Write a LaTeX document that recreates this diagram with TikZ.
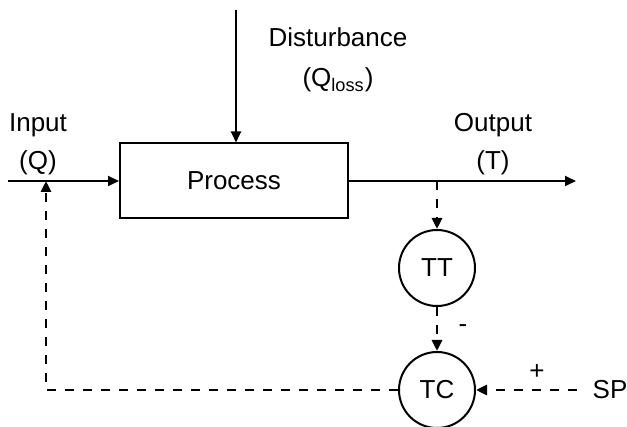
\documentclass[tikz,border=0pt]{standalone}
\usepackage{fontspec}
\setmainfont{Liberation Sans}
\usetikzlibrary{arrows.meta}
\tikzset{
   line/.style  = {-, line width=1pt, },
   arrow/.style = {-{Triangle[length=5.5pt,width=5pt]}, line width=1pt, },
   dasharrow/.style = {-{Triangle[length=5.5pt,width=5pt]}, line width=1.4pt,
      dash pattern=on 4.5pt off 4.5pt, },
   lbl/.style = {inner sep=0pt, align=center, font=\fontsize{13}{19}\selectfont, },
}

\begin{document}
\begin{tikzpicture}[x=0.5pt, y=-0.5pt]

      \useasboundingbox (0,0) rectangle (627,427);

      \node[
         rectangle,
         draw,
         line width = 1pt,
         minimum height=37.5pt,
         minimum width=114pt,
         font=\fontsize{13}{15}\selectfont,
      ] (process) at (234,181){Process};

      \node[
         circle,
         draw,
         line width = 1pt,
         minimum size=38pt,
         inner sep=0pt,
         font=\fontsize{13}{15}\selectfont,
      ] (tt) at (437,268){TT};

      \node[
         circle,
         draw,
         line width = 1pt,
         minimum size=38pt,
         inner sep=0pt,
         font=\fontsize{13}{15}\selectfont,
      ] (tc) at (437,390){TC};

      \node[lbl] (inlbl)   at (38,144)  {Input\\(Q)};
      \node[lbl] (outlbl)  at (493,144) {Output\\(T)};
      \node[lbl] (distlbl) at (338,60)  {Disturbance\\[1pt](Q\textsubscript{loss})};
      \node[lbl] (minus)   at (463,329) {-};
      \node[lbl] (plus)    at (537,372) {+};
      \node[lbl] (sp)      at (610,390) {SP};

      \coordinate (in)     at (8,181);
      \coordinate (out)    at (576,181);
      \coordinate (dist)   at (236,10);
      \coordinate (branch) at (437,181);
      \coordinate (spin)   at (577,390);
      \coordinate (injoin) at (46,181);

      \draw[arrow]     (in)            -- (process.west);
      \draw[arrow]     (process.east)  -- (out);
      \draw[arrow]     (dist)          -- (dist |- process.north);
      \draw[dasharrow] (branch)        -- (tt.north);
      \draw[dasharrow] (tt.south)      -- (tc.north);
      \draw[dasharrow] (spin)          -- (tc.east);
      \draw[dasharrow] (tc.west)       -| (injoin);
   \end{tikzpicture}
\end{document}
